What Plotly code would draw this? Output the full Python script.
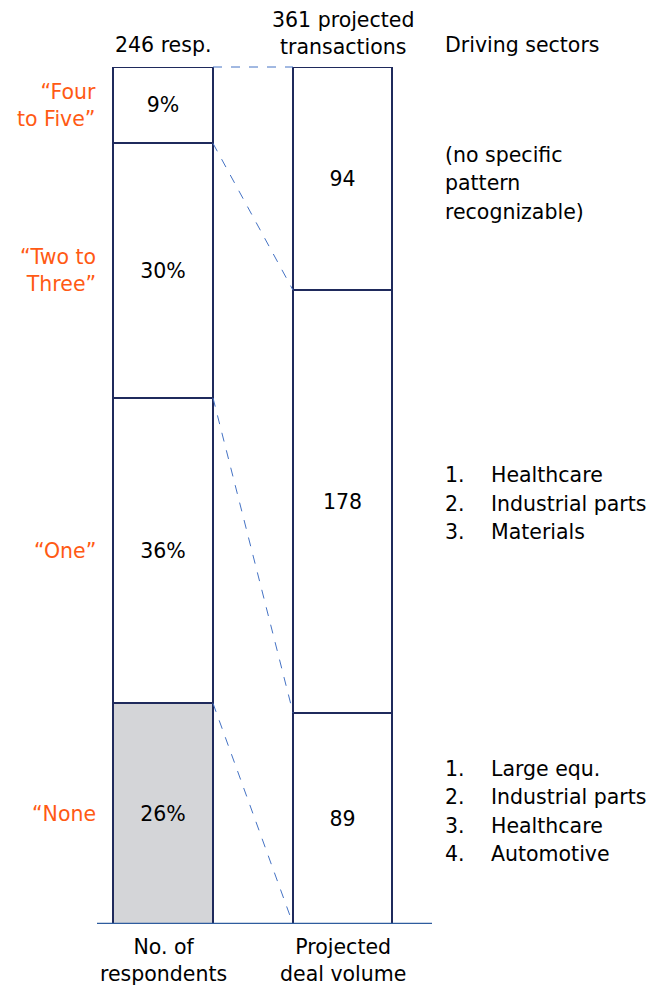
import plotly.graph_objects as go

# Survey answers: how many deals respondents expect
answer_labels = ["“None", "“One”", "“Two to<br>Three”", "“Four<br>to Five”"]
respondent_share = [26, 36, 30, 9]          # % of 246 respondents
deal_volume = [89, 178, 94]                 # projected transactions (None, One, Two+)
deal_labels = ["89", "178", "94"]

# Driving sectors per deal-volume block (bottom to top)
sector_lists = [
    ["Large equ.", "Industrial parts", "Healthcare", "Automotive"],
    ["Healthcare", "Industrial parts", "Materials"],
]
no_pattern_text = ["(no specific", "pattern", "recognizable)"]

NAVY = "#1F2A5C"
BLUE = "#2E5C9E"
DASH = "#4472C4"
ORANGE = "#FF5A14"
GRAY = "#D4D5D8"
FONT = "DejaVu Sans"
FS = 20.5

left_total = sum(respondent_share)
right_total = sum(deal_volume)
X_MAX = 3.35
X_LEFT, X_RIGHT = 0.66, 2.455
X_NUM, X_ITEM = 3.46, 3.92


def px(xv):
    """Convert x-axis units to paper fraction (allows text outside the axis range)."""
    return xv / X_MAX


fig = go.Figure()

# Left stacked bar: share of respondents
base = 0
for i, v in enumerate(respondent_share):
    fig.add_trace(go.Bar(
        x=[X_LEFT], y=[v], base=[base], width=[1.0],
        marker=dict(color=GRAY if i == 0 else "white", line=dict(color=NAVY, width=2)),
        text=[f"{v}%"], textposition="inside", insidetextanchor="middle", textangle=0,
        textfont=dict(family=FONT, size=FS, color="black"),
        yaxis="y", showlegend=False, hoverinfo="skip",
    ))
    fig.add_annotation(
        x=px(0.005), y=base + v / 2, xref="paper", yref="y", text=answer_labels[i],
        showarrow=False, xanchor="right", yanchor="middle", align="right",
        font=dict(family=FONT, size=FS, color=ORANGE),
    )
    base += v

# Right stacked bar: projected deal volume
base = 0
for i, v in enumerate(deal_volume):
    fig.add_trace(go.Bar(
        x=[X_RIGHT], y=[v], base=[base], width=[0.99],
        marker=dict(color="white", line=dict(color=NAVY, width=2)),
        text=[deal_labels[i]], textposition="inside", insidetextanchor="middle", textangle=0,
        textfont=dict(family=FONT, size=FS, color="black"),
        yaxis="y2", showlegend=False, hoverinfo="skip",
    ))
    base += v

# Dashed connectors between matching block boundaries
left_cum = [left_total, left_total - respondent_share[3],
            respondent_share[0] + respondent_share[1], respondent_share[0]]
right_cum = [right_total, deal_volume[0] + deal_volume[1], deal_volume[0], 0]
for lc, rc in zip(left_cum, right_cum):
    fig.add_shape(
        type="line", xref="x", yref="y domain",
        x0=X_LEFT + 0.5, x1=X_RIGHT - 0.495,
        y0=lc / left_total, y1=rc / right_total,
        line=dict(color=DASH, width=1, dash="dash"),
    )

# Baseline
fig.add_shape(type="line", xref="paper", yref="y", x0=0, x1=1, y0=0, y1=0,
              line=dict(color=BLUE, width=2.5), layer="above")

TXT = dict(family=FONT, size=FS, color="black")

# Column headers
fig.add_annotation(x=px(X_LEFT), y=1, xref="paper", yref="paper", yshift=22,
                   xanchor="center", yanchor="middle", text="246 resp.",
                   showarrow=False, font=TXT)
fig.add_annotation(x=px(X_RIGHT), y=1, xref="paper", yref="paper", yshift=33.5,
                   xanchor="center", yanchor="middle", text="361 projected<br>transactions",
                   showarrow=False, font=TXT)
fig.add_annotation(x=px(X_NUM), y=1, xref="paper", yref="paper", yshift=22,
                   xanchor="left", yanchor="middle", text="Driving sectors",
                   showarrow=False, font=TXT)

# Axis captions
fig.add_annotation(x=px(X_LEFT), y=0, xref="paper", yref="paper", yshift=-36,
                   xanchor="center", yanchor="middle", text="No. of<br>respondents",
                   showarrow=False, font=TXT)
fig.add_annotation(x=px(X_RIGHT), y=0, xref="paper", yref="paper", yshift=-36,
                   xanchor="center", yanchor="middle", text="Projected<br>deal volume",
                   showarrow=False, font=TXT)

# Sector lists next to the deal-volume blocks
LINE = 28.5
centers = []
base = 0
for v in deal_volume:
    centers.append(base + v / 2)
    base += v


def add_list(items, center, numbered):
    n = len(items)
    for k, item in enumerate(items):
        shift = ((n - 1) / 2 - k) * LINE
        if numbered:
            fig.add_annotation(x=px(X_NUM), y=center, xref="paper", yref="y2", yshift=shift,
                               text=f"{k + 1}.", showarrow=False, xanchor="left",
                               yanchor="middle", font=TXT)
            fig.add_annotation(x=px(X_ITEM), y=center, xref="paper", yref="y2", yshift=shift,
                               text=item, showarrow=False, xanchor="left",
                               yanchor="middle", font=TXT)
        else:
            fig.add_annotation(x=px(X_NUM), y=center, xref="paper", yref="y2", yshift=shift,
                               text=item, showarrow=False, xanchor="left",
                               yanchor="middle", font=TXT)


add_list(sector_lists[0], centers[0] + 2.9, True)
add_list(sector_lists[1], centers[1] - 0.9, True)
add_list(no_pattern_text, centers[2] - 2, False)

fig.update_layout(
    width=653, height=990,
    margin=dict(l=97, r=221, t=67, b=66),
    plot_bgcolor="white", paper_bgcolor="white",
    barmode="overlay", bargap=0,
    xaxis=dict(range=[0, X_MAX], visible=False, fixedrange=True),
    yaxis=dict(range=[0, left_total], visible=False, fixedrange=True),
    yaxis2=dict(range=[0, right_total], visible=False, overlaying="y", fixedrange=True),
    uniformtext=dict(minsize=FS, mode="show"),
)

fig.write_html("out.html")
